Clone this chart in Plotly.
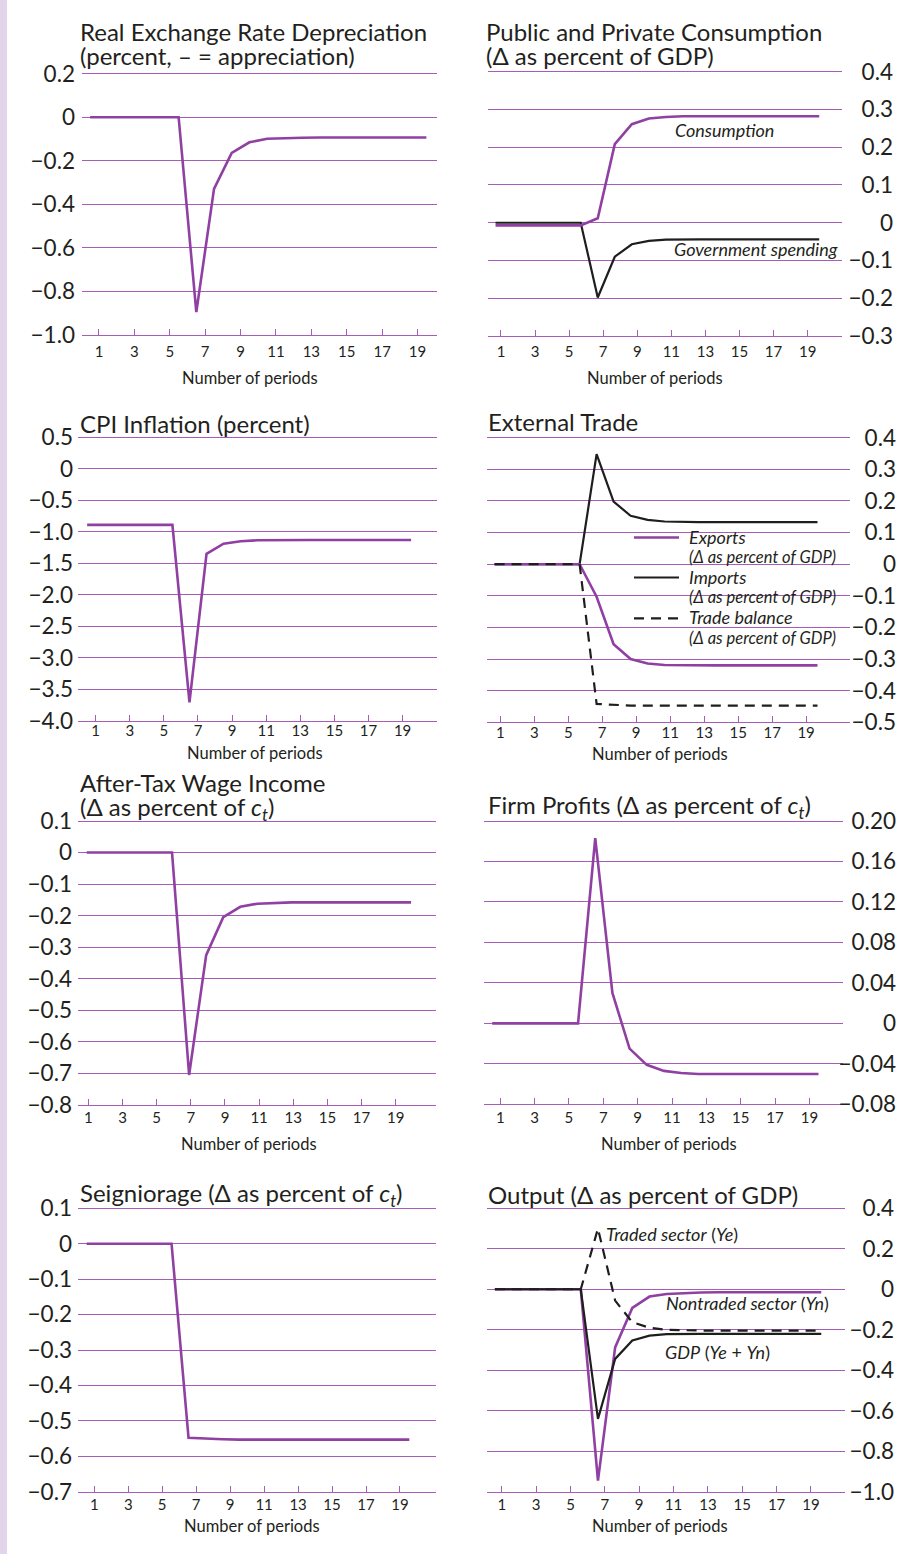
import plotly.graph_objects as go

W, H = 916, 1554
FONT = "Lato"
TXT = "#231F20"
GRID = "#A65CB8"
PURPLE = "#9040A2"
BLACK = "#1E1E1E"

# ---------------- data ----------------
periods = list(range(1, 21))
x_ticks = [1, 3, 5, 7, 9, 11, 13, 15, 17, 19]
x_tick_labels = ["1", "3", "5", "7", "9", "11", "13", "15", "17", "19"]

rer = [0, 0, 0, 0, 0, 0, -0.895, -0.329, -0.164, -0.115, -0.099, -0.095,
       -0.094, -0.093, -0.093, -0.093, -0.093, -0.093, -0.093, -0.093]
cpi = [-0.89, -0.89, -0.89, -0.89, -0.89, -0.89, -3.71, -1.35, -1.19, -1.15,
       -1.135, -1.13, -1.13, -1.13, -1.13, -1.13, -1.13, -1.13, -1.13, -1.13]
wage = [0, 0, 0, 0, 0, 0, -0.705, -0.325, -0.205, -0.172, -0.162, -0.159,
        -0.158, -0.158, -0.158, -0.158, -0.158, -0.158, -0.158, -0.158]
seigniorage = [0, 0, 0, 0, 0, 0, -0.548, -0.551, -0.552, -0.553, -0.553, -0.553,
               -0.553, -0.553, -0.553, -0.553, -0.553, -0.553, -0.553, -0.553]
consumption = [-0.007, -0.007, -0.007, -0.007, -0.007, -0.007, 0.012, 0.208, 0.261,
               0.276, 0.280, 0.282, 0.282, 0.282, 0.282, 0.282, 0.282, 0.282, 0.282, 0.282]
gov_spending = [0, 0, 0, 0, 0, 0, -0.198, -0.090, -0.057, -0.048, -0.045, -0.044,
                -0.044, -0.044, -0.044, -0.044, -0.044, -0.044, -0.044, -0.044]
exports = [0, 0, 0, 0, 0, 0, -0.103, -0.253, -0.300, -0.314, -0.319, -0.320,
           -0.320, -0.320, -0.320, -0.320, -0.320, -0.320, -0.320, -0.320]
imports = [0, 0, 0, 0, 0, 0, 0.348, 0.198, 0.153, 0.140, 0.135, 0.133,
           0.133, 0.133, 0.133, 0.133, 0.133, 0.133, 0.133, 0.133]
trade_balance = [0, 0, 0, 0, 0, 0, -0.442, -0.445, -0.447, -0.447, -0.447, -0.447,
                 -0.447, -0.447, -0.447, -0.447, -0.447, -0.447, -0.447, -0.447]
profits = [0, 0, 0, 0, 0, 0, 0.183, 0.030, -0.025, -0.041, -0.047, -0.049,
           -0.050, -0.050, -0.050, -0.050, -0.050, -0.050, -0.050, -0.050]
output_traded = [0, 0, 0, 0, 0, 0, 0.30, -0.056, -0.163, -0.190, -0.200, -0.203,
                 -0.204, -0.204, -0.204, -0.204, -0.204, -0.204, -0.204, -0.204]
output_nontraded = [0, 0, 0, 0, 0, 0, -0.945, -0.287, -0.092, -0.036, -0.023, -0.018,
                    -0.016, -0.015, -0.015, -0.015, -0.015, -0.015, -0.015, -0.015]
output_gdp = [0, 0, 0, 0, 0, 0, -0.640, -0.344, -0.253, -0.229, -0.222, -0.220,
              -0.220, -0.220, -0.220, -0.220, -0.220, -0.220, -0.220, -0.220]

M = "\u2212"
rer_ticks = [0.2, 0, -0.2, -0.4, -0.6, -0.8, -1.0]
rer_labels = ["0.2", "0", M + "0.2", M + "0.4", M + "0.6", M + "0.8", M + "1.0"]
cons_ticks = [0.4, 0.3, 0.2, 0.1, 0, -0.1, -0.2, -0.3]
cons_labels = ["0.4", "0.3", "0.2", "0.1", "0", M + "0.1", M + "0.2", M + "0.3"]
cpi_ticks = [0.5, 0, -0.5, -1.0, -1.5, -2.0, -2.5, -3.0, -3.5, -4.0]
cpi_labels = ["0.5", "0", M + "0.5", M + "1.0", M + "1.5", M + "2.0", M + "2.5",
              M + "3.0", M + "3.5", M + "4.0"]
trade_ticks = [0.4, 0.3, 0.2, 0.1, 0, -0.1, -0.2, -0.3, -0.4, -0.5]
trade_labels = ["0.4", "0.3", "0.2", "0.1", "0", M + "0.1", M + "0.2", M + "0.3",
                M + "0.4", M + "0.5"]
wage_ticks = [0.1, 0, -0.1, -0.2, -0.3, -0.4, -0.5, -0.6, -0.7, -0.8]
wage_labels = ["0.1", "0", M + "0.1", M + "0.2", M + "0.3", M + "0.4", M + "0.5",
               M + "0.6", M + "0.7", M + "0.8"]
profit_ticks = [0.20, 0.16, 0.12, 0.08, 0.04, 0, -0.04, -0.08]
profit_labels = ["0.20", "0.16", "0.12", "0.08", "0.04", "0", M + "0.04", M + "0.08"]
seign_ticks = [0.1, 0, -0.1, -0.2, -0.3, -0.4, -0.5, -0.6, -0.7]
seign_labels = ["0.1", "0", M + "0.1", M + "0.2", M + "0.3", M + "0.4", M + "0.5",
                M + "0.6", M + "0.7"]
output_ticks = [0.4, 0.2, 0, -0.2, -0.4, -0.6, -0.8, -1.0]
output_labels = ["0.4", "0.2", "0", M + "0.2", M + "0.4", M + "0.6", M + "0.8", M + "1.0"]

CT = "<i>c</i><sub><i>t</i></sub>"

# ---------------- panel layout (pixels) ----------------
panels = [
    dict(xd=(82, 437), yd=(73.7, 335), xr=(0.04, 20.1), yr=(-1.0, 0.2),
         yt=rer_ticks, yl=rer_labels, lab=75, shift=0.5, so=3,
         series=[(rer, PURPLE, "solid")],
         title=[("Real Exchange Rate Depreciation", 31), ("(percent, – = appreciation)", 55.5)],
         tx=78, nop=(250, 378)),
    dict(xd=(487.7, 841.7), yd=(71.7, 336), xr=(0.22, 21.0), yr=(-0.3, 0.4),
         yt=cons_ticks, yl=cons_labels, lab=893, shift=0.68, so=2,
         series=[(gov_spending, BLACK, "solid"), (consumption, PURPLE, "solid")],
         title=[("Public and Private Consumption", 31), ("(Δ as percent of GDP)", 55.5)],
         tx=484, nop=(655, 378)),
    dict(xd=(78.3, 436.7), yd=(437.3, 720.7), xr=(-0.02, 21.0), yr=(-4.0, 0.5),
         yt=cpi_ticks, yl=cpi_labels, lab=73, shift=0.5, end_tick=True, so=-4,
         series=[(cpi, PURPLE, "solid")],
         title=[("CPI Inflation (percent)", 423)],
         tx=78, nop=(255, 753)),
    dict(xd=(487, 850.3), yd=(437.7, 722.3), xr=(0.22, 21.6), yr=(-0.5, 0.4),
         yt=trade_ticks, yl=trade_labels, lab=896, shift=0.67, so=-4,
         series=[(imports, BLACK, "solid"), (exports, PURPLE, "solid"),
                 (trade_balance, BLACK, "dash")],
         title=[("External Trade", 421.5)],
         tx=486, nop=(660, 754)),
    dict(xd=(78.3, 436), yd=(821, 1105), xr=(0.41, 21.36), yr=(-0.8, 0.1),
         yt=wage_ticks, yl=wage_labels, lab=72, shift=0.9, so=-1,
         series=[(wage, PURPLE, "solid")],
         title=[("After-Tax Wage Income", 782.5), ("(Δ as percent of " + CT + ")", 808)],
         tx=78, nop=(249, 1144.3)),
    dict(xd=(484.3, 842.7), yd=(821, 1104.3), xr=(0.07, 20.94), yr=(-0.08, 0.20),
         yt=profit_ticks, yl=profit_labels, lab=896, shift=0.53, so=-1,
         series=[(profits, PURPLE, "solid")],
         title=[("Firm Profits (Δ as percent of " + CT + ")", 806.7)],
         tx=486, nop=(669, 1144.3)),
    dict(xd=(78.3, 436), yd=(1208.3, 1491.7), xr=(0.06, 21.12), yr=(-0.7, 0.1),
         yt=seign_ticks, yl=seign_labels, lab=72, shift=0.55, so=-1,
         series=[(seigniorage, PURPLE, "solid")],
         title=[("Seigniorage (Δ as percent of " + CT + ")", 1194)],
         tx=78, nop=(252, 1526)),
    dict(xd=(487, 845.3), yd=(1208.3, 1491.7), xr=(0.14, 21.0), yr=(-1.0, 0.4),
         yt=output_ticks, yl=output_labels, lab=894, shift=0.6, so=-1,
         series=[(output_nontraded, PURPLE, "solid"), (output_gdp, BLACK, "solid"),
                 (output_traded, BLACK, "dash")],
         title=[("Output (Δ as percent of GDP)", 1194)],
         tx=486, nop=(660, 1526)),
]


def px_x(v):
    return v / W


def px_y(v):
    return 1 - v / H


fig = go.Figure()
annotations = []
shapes = []
layout = {}
TOP_PAD = 4  # px of room above the top grid line so it is drawn

for i, p in enumerate(panels, start=1):
    xa = "xaxis" if i == 1 else f"xaxis{i}"
    ya = "yaxis" if i == 1 else f"yaxis{i}"
    xref = "x" if i == 1 else f"x{i}"
    yref = "y" if i == 1 else f"y{i}"
    ymin, ymax = p["yr"]
    top_px, bot_px = p["yd"]
    per_px = (ymax - ymin) / (bot_px - top_px)
    tv = list(x_ticks)
    tt = list(x_tick_labels)
    if p.get("end_tick"):
        tv.append(21)
        tt.append(" ")
    layout[xa] = dict(
        domain=[px_x(p["xd"][0]), px_x(p["xd"][1])], range=list(p["xr"]),
        anchor=yref, showgrid=False, zeroline=False,
        showline=True, linecolor=GRID, linewidth=1.4,
        ticks="inside", ticklen=6, tickwidth=1.3, tickcolor=GRID,
        tickvals=tv, ticktext=tt,
        tickfont=dict(family=FONT, size=15, color=TXT),
        ticklabelstandoff=p["so"], fixedrange=True, automargin=False,
    )
    layout[ya] = dict(
        domain=[px_y(bot_px), px_y(top_px - TOP_PAD)],
        range=[ymin, ymax + TOP_PAD * per_px],
        anchor="free", position=px_x(p["lab"]), side="left",
        showgrid=True, gridcolor=GRID, gridwidth=1.3, zeroline=False,
        showline=False, ticks="", tickvals=p["yt"], ticktext=p["yl"],
        tickfont=dict(family=FONT, size=22.5, color=TXT), fixedrange=True,
        automargin=False,
    )
    xs = [k - 1 + p["shift"] for k in periods]
    for vals, col, dash in p["series"]:
        fig.add_trace(go.Scatter(
            x=xs, y=vals, xaxis=xref, yaxis=yref, mode="lines",
            line=dict(color=col, width=2.6 if col == PURPLE else 2.2,
                      dash="10px,7px" if dash == "dash" else "solid"),
            showlegend=False, hoverinfo="skip"))
    for text, cy in p["title"]:
        annotations.append(dict(
            text=text, x=px_x(p["tx"]), y=px_y(cy), xref="paper", yref="paper",
            xanchor="left", yanchor="middle", showarrow=False,
            font=dict(family=FONT, size=24, color=TXT)))
    annotations.append(dict(
        text="Number of periods", x=px_x(p["nop"][0]), y=px_y(p["nop"][1]),
        xref="paper", yref="paper", xanchor="center", yanchor="middle",
        showarrow=False, font=dict(family=FONT, size=16.5, color=TXT)))

# left lavender strip
shapes.append(dict(type="rect", xref="paper", yref="paper", x0=0, x1=px_x(7),
                   y0=0, y1=1, fillcolor="#E2D4EA", line=dict(width=0), layer="below"))

# white box behind legend of External Trade (hides gridlines)
shapes.append(dict(type="rect", xref="paper", yref="y4", x0=px_x(620), x1=px_x(852),
                   y0=-0.255, y1=0.122, fillcolor="white", line=dict(width=0),
                   layer="between"))


def italic_note(text, x, y, size=18, anchor="left"):
    annotations.append(dict(
        text=text, x=px_x(x), y=px_y(y), xref="paper", yref="paper",
        xanchor=anchor, yanchor="middle", showarrow=False,
        font=dict(family=FONT, size=size, color=TXT)))


# Public and private consumption labels
italic_note("<i>Consumption</i>", 724, 130, anchor="center")
italic_note("<i>Government spending</i>", 756, 249, anchor="center")

# External trade legend
leg = [
    ("<i>Exports</i>", 537.5, PURPLE, "solid", 2.6),
    ("<i>Imports</i>", 577.5, BLACK, "solid", 2.2),
    ("<i>Trade balance</i>", 618.3, BLACK, "dash", 2.2),
]
for label, ly, col, dash, wdt in leg:
    shapes.append(dict(type="line", xref="paper", yref="paper",
                       x0=px_x(634), x1=px_x(679), y0=px_y(ly), y1=px_y(ly),
                       line=dict(color=col, width=wdt,
                                 dash="10px,7px" if dash == "dash" else "solid")))
    italic_note(label, 687, ly - 1, size=18)
    italic_note("<i>(Δ as percent of GDP)</i>", 687, ly + 19.5, size=16.5)

# Output labels
italic_note("<i>Traded sector</i> (<i>Ye</i>)", 604, 1234.3)
italic_note("<i>Nontraded sector</i> (<i>Yn</i>)", 664, 1303.3)
italic_note("<i>GDP</i> (<i>Ye</i> + <i>Yn</i>)", 663, 1351.7)

fig.update_layout(
    width=W, height=H,
    margin=dict(l=0, r=0, t=0, b=0, pad=0, autoexpand=False),
    paper_bgcolor="white", plot_bgcolor="rgba(0,0,0,0)",
    showlegend=False, annotations=annotations, shapes=shapes, **layout,
)

fig.write_html("out.html")
